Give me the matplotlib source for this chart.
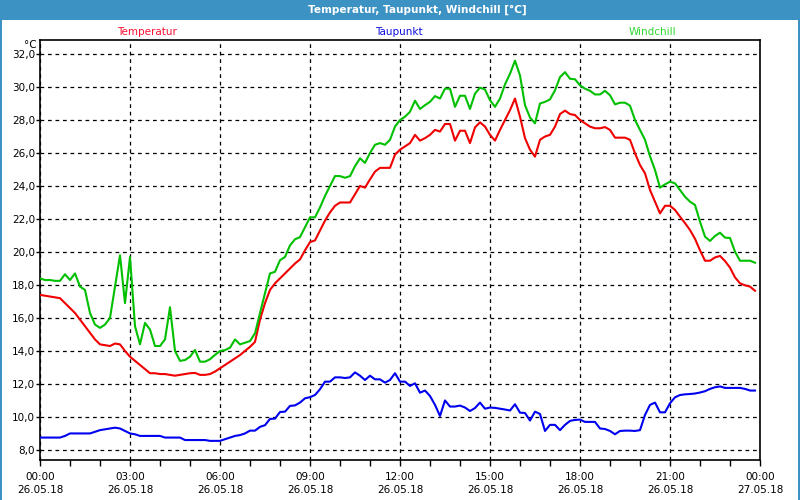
import matplotlib
matplotlib.use("Agg")
import matplotlib.pyplot as plt
import matplotlib.dates as mdates
from matplotlib.ticker import FuncFormatter, MultipleLocator
from matplotlib.patches import Rectangle
import numpy as np
import pandas as pd

# ---------------- data (10-minute samples, 26.05.18) ----------------
times = pd.date_range("2018-05-26 00:00", periods=144, freq="10min")

temperatur = [
    17.4, 17.35, 17.3, 17.25, 17.2, 16.9, 16.6, 16.3, 15.9, 15.5, 15.1, 14.7,
    14.4, 14.35, 14.3, 14.45, 14.4, 14.0, 13.65, 13.4, 13.15, 12.9, 12.65, 12.65,
    12.6, 12.6, 12.55, 12.5, 12.55, 12.6, 12.65, 12.67, 12.55, 12.55, 12.6, 12.75,
    12.95, 13.15, 13.35, 13.55, 13.75, 14.0, 14.25, 14.55, 15.9, 16.9, 17.7, 18.1,
    18.4, 18.7, 19.0, 19.3, 19.55, 20.1, 20.6, 20.7, 21.3, 21.9, 22.4, 22.8,
    23.0, 23.0, 23.0, 23.5, 24.0, 23.9, 24.4, 24.87, 25.1, 25.1, 25.1, 25.9,
    26.2, 26.4, 26.6, 27.1, 26.75, 26.9, 27.1, 27.4, 27.3, 27.76, 27.76, 26.75,
    27.35, 27.35, 26.6, 27.55, 27.86, 27.6, 27.1, 26.75, 27.4, 28.0, 28.6, 29.3,
    28.2, 26.9, 26.2, 25.78, 26.8, 27.0, 27.1, 27.6, 28.36, 28.57, 28.36, 28.3,
    28.0, 27.8, 27.6, 27.5, 27.5, 27.57, 27.4, 26.93, 26.93, 26.93, 26.8, 25.98,
    25.27, 24.77, 23.76, 23.05, 22.34, 22.8, 22.8, 22.55, 22.14, 21.75, 21.33, 20.8,
    20.1, 19.47, 19.47, 19.67, 19.76, 19.45, 19.05, 18.46, 18.1, 17.98, 17.9, 17.65,
]

taupunkt = [
    8.75, 8.75, 8.75, 8.75, 8.75, 8.85, 9.0, 9.0, 9.0, 9.0, 9.0, 9.1,
    9.2, 9.25, 9.3, 9.35, 9.3, 9.15, 9.0, 8.95, 8.85, 8.85, 8.85, 8.85,
    8.85, 8.75, 8.75, 8.75, 8.75, 8.6, 8.6, 8.6, 8.6, 8.6, 8.55, 8.55,
    8.55, 8.65, 8.75, 8.85, 8.9, 9.0, 9.17, 9.17, 9.4, 9.5, 9.88, 9.9,
    10.3, 10.32, 10.67, 10.7, 10.87, 11.13, 11.2, 11.33, 11.68, 12.14, 12.14, 12.4,
    12.4, 12.36, 12.4, 12.7, 12.5, 12.24, 12.5, 12.28, 12.28, 12.08, 12.24, 12.65,
    12.14, 12.14, 11.88, 12.04, 11.47, 11.6, 11.27, 10.73, 10.06, 11.0, 10.63, 10.63,
    10.69, 10.57, 10.36, 10.54, 10.87, 10.5, 10.57, 10.55, 10.5, 10.45, 10.39, 10.77,
    10.26, 10.24, 9.78, 10.32, 10.18, 9.15, 9.52, 9.52, 9.2, 9.52, 9.76, 9.82,
    9.84, 9.7, 9.7, 9.7, 9.3, 9.27, 9.15, 8.95, 9.15, 9.17, 9.17, 9.15,
    9.2, 10.12, 10.73, 10.87, 10.28, 10.28, 10.83, 11.19, 11.33, 11.37, 11.39, 11.42,
    11.48, 11.56, 11.7, 11.8, 11.85, 11.76, 11.76, 11.76, 11.76, 11.7, 11.6, 11.6,
]

windchill = [
    18.4, 18.3, 18.3, 18.25, 18.25, 18.65, 18.3, 18.7, 17.9, 17.7, 16.3, 15.6,
    15.4, 15.6, 16.0, 17.9, 19.8, 16.9, 19.7, 15.5, 14.4, 15.7, 15.3, 14.3,
    14.3, 14.7, 16.65, 14.0, 13.4, 13.45, 13.65, 14.06, 13.35, 13.35, 13.5, 13.76,
    14.0, 14.05, 14.2, 14.7, 14.4, 14.5, 14.6, 15.07, 16.3, 17.5, 18.7, 18.8,
    19.5, 19.7, 20.4, 20.77, 20.9, 21.5, 22.1, 22.1, 22.7, 23.4, 24.0, 24.6,
    24.6, 24.5, 24.6, 25.2, 25.68, 25.4, 26.0, 26.5, 26.6, 26.5, 26.8, 27.6,
    28.0, 28.2, 28.5, 29.17, 28.67, 28.9, 29.1, 29.45, 29.3, 29.9, 29.9, 28.8,
    29.47, 29.47, 28.67, 29.6, 29.96, 29.85, 29.2, 28.8, 29.3, 30.16, 30.8, 31.6,
    30.7, 28.9, 28.15, 27.8, 29.0, 29.1, 29.25, 29.8, 30.6, 30.9, 30.5, 30.47,
    30.1, 29.9, 29.77, 29.55, 29.55, 29.77, 29.5, 28.95, 29.05, 29.05, 28.87, 28.0,
    27.4, 26.8, 25.8, 24.97, 23.9, 24.1, 24.26, 24.16, 23.76, 23.35, 23.05, 22.85,
    21.84, 20.93, 20.67, 20.97, 21.17, 20.87, 20.85, 20.02, 19.47, 19.47, 19.47, 19.35,
]

series_names = ["Temperatur", "Taupunkt", "Windchill"]
tick_labels = ["00:00\n26.05.18", "03:00\n26.05.18", "06:00\n26.05.18",
               "09:00\n26.05.18", "12:00\n26.05.18", "15:00\n26.05.18",
               "18:00\n26.05.18", "21:00\n26.05.18", "00:00\n27.05.18"]
title = "Temperatur, Taupunkt, Windchill [°C]"

# ---------------- styling ----------------
bar_blue = "#3d92c4"
line_colors = ["#f00000", "#0000f0", "#00c000"]
text_colors = ["#ff1030", "#1010e0", "#30d830"]

plt.rcParams["font.family"] = ["DejaVu Sans"]

fig = plt.figure(figsize=(8, 5), dpi=100)
fig.patch.set_facecolor("white")
ax = fig.add_axes([0.05, 0.08, 0.9, 0.84])

x_start = pd.Timestamp("2018-05-26 00:00")
x_end = pd.Timestamp("2018-05-27 00:00")

for vals, col in zip([temperatur, taupunkt, windchill], line_colors):
    ax.plot(times, vals, color=col, linewidth=1.5, zorder=3)

ax.set_xlim(x_start, x_end)
ax.set_ylim(7.39, 32.85)

major_ticks = pd.date_range(x_start, x_end, freq="3h")
ax.set_xticks(major_ticks)
ax.set_xticklabels(tick_labels)
ax.xaxis.set_minor_locator(mdates.HourLocator(interval=1))
for lab in ax.get_xticklabels():
    lab.set_linespacing(1.4)

ax.yaxis.set_major_locator(MultipleLocator(2))
ax.yaxis.set_major_formatter(FuncFormatter(lambda v, p: f"{v:.1f}".replace(".", ",")))

ax.grid(True, which="major", color="black", linestyle=(0, (3, 3)), linewidth=0.9, zorder=1)
ax.tick_params(axis="y", which="major", length=3, width=1, direction="out",
               labelsize=7.5, pad=0.5, colors="black")
ax.tick_params(axis="x", which="both", length=4.5, width=1, direction="out",
               labelsize=7.5, pad=4, colors="black")
for s in ax.spines.values():
    s.set_color("black")
    s.set_linewidth(1.2)

# title bar and frame
fig.add_artist(Rectangle((0, 1 - 20 / 500), 1, 20 / 500, transform=fig.transFigure,
                         facecolor=bar_blue, edgecolor="none", zorder=0))
fig.add_artist(Rectangle((0, 0), 2 / 800, 1, transform=fig.transFigure,
                         facecolor=bar_blue, edgecolor="none", zorder=0))
fig.add_artist(Rectangle((798 / 800, 0), 2 / 800, 1, transform=fig.transFigure,
                         facecolor=bar_blue, edgecolor="none", zorder=0))
fig.text(417 / 800, 1 - 10 / 500, title, color="white", weight="bold",
         ha="center", va="center", fontsize=7.6)

# series labels above plot
for name, xc, col in zip(series_names, [147, 399, 652], text_colors):
    fig.text(xc / 800, 1 - 32 / 500, name, color=col, ha="center", va="center", fontsize=7.5)

fig.text(37 / 800, 1 - 45 / 500, "°C", ha="right", va="center", fontsize=7.5)

fig.savefig("out.png", dpi=100)
